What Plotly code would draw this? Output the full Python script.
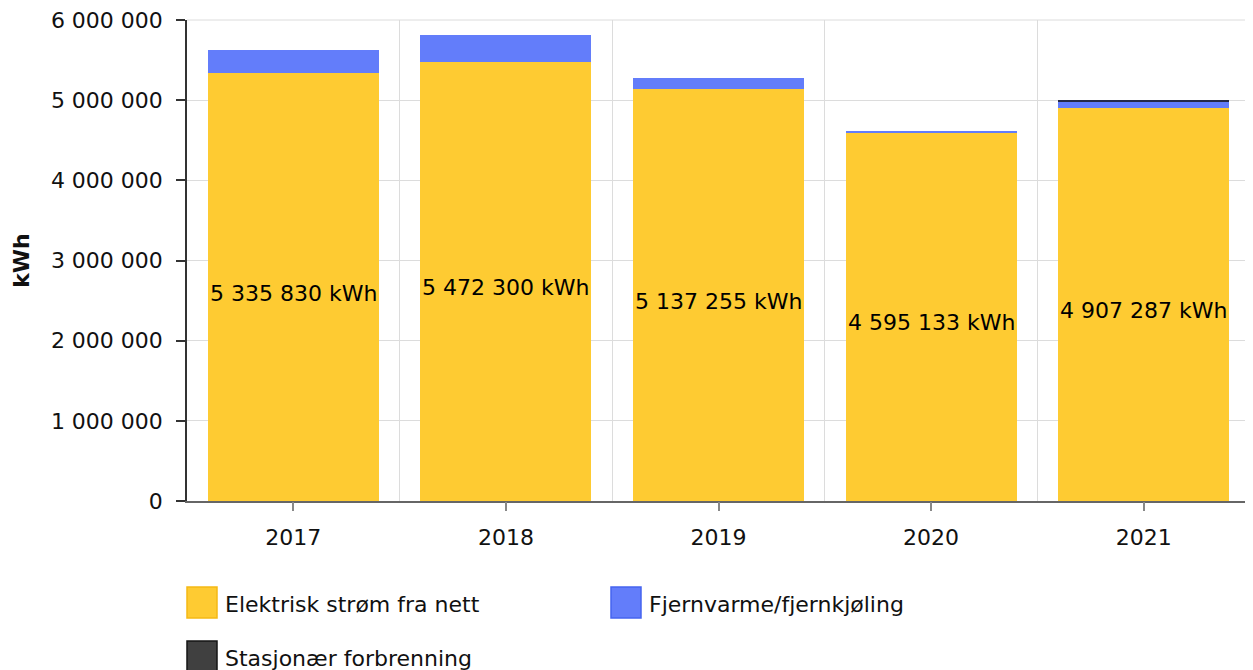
import plotly.graph_objects as go

years = ["2017", "2018", "2019", "2020", "2021"]
elektrisk = [5335830, 5472300, 5137255, 4595133, 4907287]
fjernvarme = [295000, 345000, 137000, 25000, 75000]
stasjonaer = [0, 0, 0, 0, 25000]
series_names = ["Elektrisk strøm fra nett", "Fjernvarme/fjernkjøling", "Stasjonær forbrenning"]
y_ticks = [0, 1000000, 2000000, 3000000, 4000000, 5000000, 6000000]

bar_colors = ["rgb(254,203,50)", "rgb(99,125,250)", "rgb(38,42,72)"]
swatch_fill = ["rgb(254,203,50)", "rgb(99,125,250)", "rgb(64,64,64)"]
swatch_line = ["rgb(245,185,20)", "rgb(70,100,240)", "rgb(20,20,20)"]

FONT = "DejaVu Sans"
FS = 22
GRID = "#dcdcdc"

# page body has an 8px margin; figure is sized so the plot lands where the reference has it
W, H = 1245, 662
L, R, T, B = 179, 3, 12, 169

fig = go.Figure()
fig.add_trace(go.Bar(
    x=years, y=elektrisk, name=series_names[0],
    marker=dict(color=bar_colors[0], line=dict(width=0)), textposition="none",
))
fig.add_trace(go.Bar(
    x=years, y=fjernvarme, name=series_names[1],
    marker=dict(color=bar_colors[1], line=dict(width=0)), textposition="none",
))
fig.add_trace(go.Bar(
    x=years, y=stasjonaer, name=series_names[2],
    marker=dict(color=bar_colors[2], line=dict(width=0)), textposition="none",
))
# invisible trace to carry centre tick marks on overlay axis
fig.add_trace(go.Scatter(x=years, y=[None]*len(years), xaxis="x2", mode="markers",
                         showlegend=False, hoverinfo="skip"))

annotations = []
for i, v in enumerate(elektrisk):
    annotations.append(dict(x=i, y=v / 2, xref="x", yref="y", showarrow=False,
                            text=f"{v:,}".replace(",", " ") + " kWh", yshift=-6,
                            font=dict(family=FONT, size=FS, color="black")))

fig.update_layout(
    width=W, height=H,
    margin=dict(l=L, r=R, t=T, b=B, autoexpand=False),
    barmode="stack", bargap=0.195,
    separators=", ",
    plot_bgcolor="white", paper_bgcolor="white",
    showlegend=False,
    font=dict(family=FONT, size=FS, color="#111"),
    xaxis=dict(
        type="category", categoryarray=years, range=[-0.5, 4.5],
        tickson="boundaries", ticks="", showgrid=True, gridcolor=GRID, gridwidth=1,
        showline=True, linecolor="#666", linewidth=1.5,
        tickfont=dict(family=FONT, size=FS, color="#111"),
        ticklabelstandoff=16,
    ),
    xaxis2=dict(
        type="category", categoryarray=years, range=[-0.5, 4.5], overlaying="x",
        side="bottom", ticks="outside", ticklen=9, tickcolor="#888", tickwidth=1.5,
        showticklabels=False, showgrid=False, showline=False,
    ),
    yaxis=dict(
        range=[0, 6000000], tickvals=y_ticks, tickformat=",d",
        showgrid=True, gridcolor=GRID, gridwidth=1,
        showline=True, linecolor="#333", linewidth=1.5,
        ticks="outside", ticklen=9, tickcolor="#333", tickwidth=1.5,
        tickfont=dict(family=FONT, size=FS, color="#111"),
        ticklabeloverflow="allow", ticklabelstandoff=9,
        automargin="left",
        title=dict(text="<b>kWh</b>", font=dict(family=FONT, size=FS, color="#111"), standoff=15),
        zeroline=False,
    ),
)

# custom legend (large swatches); coordinates in screen px of the reference
plot_w = W - L - R
plot_h = H - T - B
SX0, SY1 = L + 8, H - B + 8   # screen x of plot left, screen y of plot bottom
def px(xp):
    return (xp - SX0) / plot_w
def py(yp):
    return (SY1 - yp) / plot_h

shapes = [
    dict(type="line", xref="paper", yref="paper", x0=0, x1=1, y0=1, y1=1,
         line=dict(color=GRID, width=1), layer="below"),
    dict(type="line", xref="paper", yref="paper", x0=1, x1=1, y0=0, y1=1,
         line=dict(color=GRID, width=2), layer="below"),
]
legend_pos = [(187, 587), (611, 587), (187, 641)]
for i, name in enumerate(series_names):
    x0, y0 = legend_pos[i]
    shapes.append(dict(type="rect", xref="paper", yref="paper",
                       x0=px(x0), x1=px(x0 + 30), y0=py(y0 + 31), y1=py(y0),
                       fillcolor=swatch_fill[i], line=dict(color=swatch_line[i], width=1.5)))
    annotations.append(dict(xref="paper", yref="paper", x=px(x0 + 36), y=py(y0 + 17),
                            xanchor="left", yanchor="middle", showarrow=False, text=name,
                            font=dict(family=FONT, size=FS, color="#111")))
fig.update_layout(shapes=shapes, annotations=annotations)

fig.write_html("out.html")
